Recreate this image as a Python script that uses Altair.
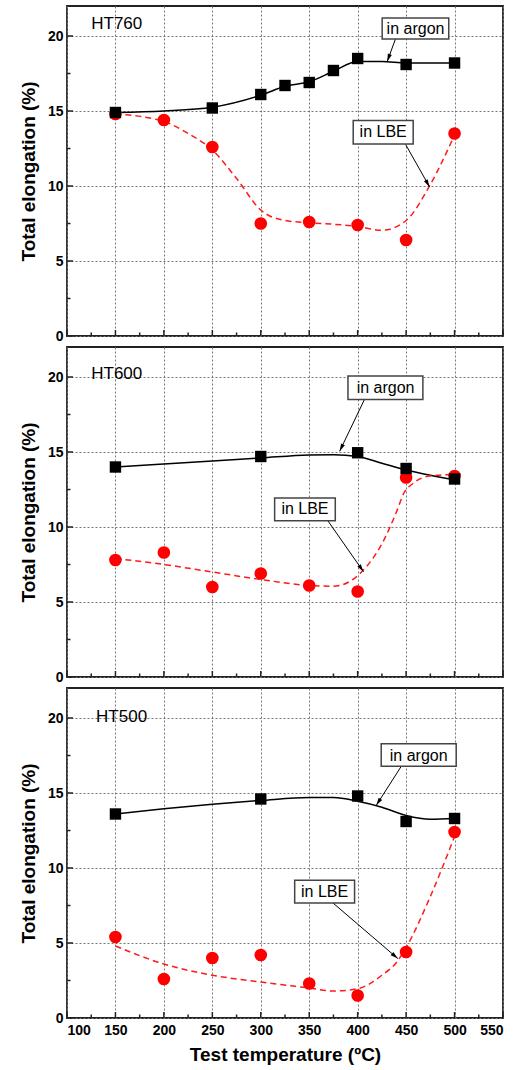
import math
import altair as alt
import pandas as pd

FONT = "Liberation Sans"
W, H = 436, 330
X_DOM = [100, 550]
Y_DOM = [0, 22]

# ---------------- data ----------------
# HT760
t760_argon = [150, 250, 300, 325, 350, 375, 400, 450, 500]
e760_argon = [14.9, 15.2, 16.1, 16.7, 16.9, 17.7, 18.5, 18.1, 18.2]
t760_lbe = [150, 200, 250, 300, 350, 400, 450, 500]
e760_lbe = [14.8, 14.4, 12.6, 7.5, 7.6, 7.4, 6.4, 13.5]
fit760_argon_t = [150, 200, 250, 300, 325, 350, 375, 400, 425, 450, 475, 500]
fit760_argon_v = [14.9, 15.0, 15.25, 16.05, 16.65, 16.95, 17.65, 18.3, 18.3, 18.2, 18.2, 18.2]
fit760_lbe_t = [150, 200, 225, 250, 275, 300, 325, 350, 375, 400, 425, 450, 475, 500]
fit760_lbe_v = [14.8, 14.3, 13.5, 12.4, 10.5, 8.4, 7.7, 7.55, 7.45, 7.3, 7.05, 7.7, 10.1, 13.4]

# HT600
t600_argon = [150, 300, 400, 450, 500]
e600_argon = [14.0, 14.7, 14.95, 13.9, 13.2]
t600_lbe = [150, 200, 250, 300, 350, 400, 450, 500]
e600_lbe = [7.8, 8.3, 6.0, 6.9, 6.1, 5.7, 13.3, 13.4]
fit600_argon_t = [150, 200, 250, 300, 350, 375, 400, 425, 450, 475, 500]
fit600_argon_v = [14.0, 14.2, 14.4, 14.6, 14.8, 14.82, 14.7, 14.25, 13.8, 13.45, 13.15]
fit600_lbe_t = [150, 200, 250, 300, 350, 375, 404, 426, 440, 448, 457, 474, 500]
fit600_lbe_v = [7.9, 7.5, 7.0, 6.5, 6.1, 6.05, 7.0, 9.0, 11.0, 12.3, 12.9, 13.4, 13.5]

# HT500
t500_argon = [150, 300, 400, 450, 500]
e500_argon = [13.6, 14.6, 14.8, 13.1, 13.3]
t500_lbe = [150, 200, 250, 300, 350, 400, 450, 500]
e500_lbe = [5.4, 2.6, 4.0, 4.2, 2.3, 1.5, 4.4, 12.4]
fit500_argon_t = [150, 200, 250, 300, 350, 375, 400, 425, 450, 475, 500]
fit500_argon_v = [13.6, 13.95, 14.25, 14.5, 14.7, 14.7, 14.45, 14.05, 13.5, 13.25, 13.3]
fit500_lbe_t = [150, 200, 250, 300, 350, 375, 400, 425, 440, 450, 475, 500]
fit500_lbe_v = [4.8, 3.6, 2.85, 2.4, 2.0, 1.8, 1.95, 2.85, 3.7, 4.7, 8.1, 12.1]

panel_names = ["HT760", "HT600", "HT500"]
panel_label_t = [125, 125, 130]
panel_label_v = [20.8, 20.2, 20.1]

note_texts = ["in argon", "in LBE"]
# per panel: [argon, LBE] -> box (t1, t2, v1, v2), text (t, v), arrow (t1, v1, t2, v2)
note_box = [
    [(425.3, 494.0, 19.8, 21.2), (395.4, 457.3, 12.8, 14.37)],
    [(390.0, 467.3, 18.5, 20.07), (314.3, 376.9, 10.41, 11.93)],
    [(424.3, 501.7, 16.78, 18.29), (335.0, 396.8, 7.67, 9.18)],
]
note_text_pos = [
    [(459.7, 20.5), (426.3, 13.6)],
    [(428.8, 19.3), (345.6, 11.17)],
    [(463.0, 17.5), (365.9, 8.42)],
]
note_arrow = [
    [(439.0, 19.8, 430.5, 18.3), (449.4, 12.78, 474.2, 9.94)],
    [(407.0, 18.5, 381.4, 15.05), (369.3, 10.41, 406.0, 7.02)],
    [(445.0, 16.78, 419.2, 14.18), (374.5, 7.67, 441.5, 3.96)],
]

x_major = list(range(100, 551, 50))
x_minor = list(range(125, 550, 50))
y_major = [0, 5, 10, 15, 20]
y_minor = [2.5, 7.5, 12.5, 17.5]

KX = W / (X_DOM[1] - X_DOM[0])
KY = H / (Y_DOM[1] - Y_DOM[0])


def panel(i, argon, lbe, fit_argon, fit_lbe, bottom):
    xscale = alt.Scale(domain=X_DOM, nice=False, zero=False)
    yscale = alt.Scale(domain=Y_DOM, nice=False)
    if bottom:
        xaxis = alt.Axis(values=x_major, grid=True, labels=True,
                         title="Test temperature (ºC)", labelPadding=5, titlePadding=8)
    else:
        xaxis = alt.Axis(values=x_major, grid=True, labels=False, title=None,
                         minExtent=0, maxExtent=0)
    yaxis = alt.Axis(values=y_major, grid=True, title="Total elongation (%)",
                     labelPadding=4, titlePadding=9)

    def X(f="t"):
        return alt.X(f"{f}:Q", scale=xscale, axis=xaxis)

    def Y(f="v"):
        return alt.Y(f"{f}:Q", scale=yscale, axis=yaxis)

    fa = pd.DataFrame({"t": fit_argon[0], "v": fit_argon[1]})
    fl = pd.DataFrame({"t": fit_lbe[0], "v": fit_lbe[1]})
    pa = pd.DataFrame({"t": argon[0], "v": argon[1]})
    pl = pd.DataFrame({"t": lbe[0], "v": lbe[1]})

    line_a = alt.Chart(fa).mark_line(color="black", strokeWidth=1.5, interpolate="monotone").encode(x=X(), y=Y())
    line_l = alt.Chart(fl).mark_line(color="#ff1a1a", strokeWidth=1.5, strokeDash=[6, 4],
                                     interpolate="monotone").encode(x=X(), y=Y())
    pts_l = alt.Chart(pl).mark_point(shape="circle", filled=True, color="#ff0000", size=160, opacity=1).encode(x=X(), y=Y())
    pts_a = alt.Chart(pa).mark_point(shape="square", filled=True, color="black", size=130, opacity=1).encode(x=X(), y=Y())

    boxes = pd.DataFrame([{"t": b[0], "t2": b[1], "v": b[2], "v2": b[3]} for b in note_box[i]])
    texts = pd.DataFrame([{"t": p[0], "v": p[1], "txt": s} for p, s in zip(note_text_pos[i], note_texts)])
    arr_rows = []
    for a in note_arrow[i]:
        sx = (a[2] - a[0]) * KX
        sy_up = (a[3] - a[1]) * KY
        ang = math.degrees(math.atan2(sx, sy_up)) % 360
        arr_rows.append({"t": a[0], "v": a[1], "t2": a[2], "v2": a[3], "ang": ang})
    arrows = pd.DataFrame(arr_rows)
    heads = arrows[["t2", "v2", "ang"]].rename(columns={"t2": "t", "v2": "v"})

    box_l = alt.Chart(boxes).mark_rect(fill="white", stroke="#444", strokeWidth=1.5).encode(
        x=X(), x2="t2:Q", y=Y(), y2="v2:Q")
    txt_l = alt.Chart(texts).mark_text(font=FONT, fontSize=16, color="black").encode(
        x=X(), y=Y(), text="txt:N")
    arr_l = alt.Chart(arrows).mark_rule(color="black", strokeWidth=1).encode(
        x=X(), x2="t2:Q", y=Y(), y2="v2:Q")
    head_l = alt.Chart(heads).mark_point(shape="M0,0L-0.6,2.2L0.6,2.2Z", filled=True, color="black",
                                         size=49, opacity=1).encode(
        x=X(), y=Y(), angle=alt.Angle("ang:Q", scale=None))

    lab = pd.DataFrame({"t": [panel_label_t[i]], "v": [panel_label_v[i]], "txt": [panel_names[i]]})
    lab_l = alt.Chart(lab).mark_text(font=FONT, fontSize=17, align="left", baseline="middle",
                                     color="black").encode(x=X(), y=Y(), text="txt:N")

    ymaj = alt.Chart(pd.DataFrame({"v": y_major})).mark_rule(color="#222", strokeWidth=1.5).encode(
        y=Y(), x=alt.value(0), x2=alt.value(6))
    ymin = alt.Chart(pd.DataFrame({"v": y_minor})).mark_rule(color="#222", strokeWidth=1.5).encode(
        y=Y(), x=alt.value(0), x2=alt.value(3.5))
    xmaj = alt.Chart(pd.DataFrame({"t": x_major})).mark_rule(color="#222", strokeWidth=1.5).encode(
        x=X(), y=alt.value(H), y2=alt.value(H - 6))
    xmin = alt.Chart(pd.DataFrame({"t": x_minor})).mark_rule(color="#222", strokeWidth=1.5).encode(
        x=X(), y=alt.value(H), y2=alt.value(H - 3.5))

    return alt.layer(line_a, line_l, pts_l, pts_a, arr_l, head_l, box_l, txt_l, lab_l,
                     ymaj, ymin, xmaj, xmin).properties(width=W, height=H)


p1 = panel(0, (t760_argon, e760_argon), (t760_lbe, e760_lbe),
           (fit760_argon_t, fit760_argon_v), (fit760_lbe_t, fit760_lbe_v), False)
p2 = panel(1, (t600_argon, e600_argon), (t600_lbe, e600_lbe),
           (fit600_argon_t, fit600_argon_v), (fit600_lbe_t, fit600_lbe_v), False)
p3 = panel(2, (t500_argon, e500_argon), (t500_lbe, e500_lbe),
           (fit500_argon_t, fit500_argon_v), (fit500_lbe_t, fit500_lbe_v), True)

chart = alt.vconcat(p1, p2, p3, spacing=2).properties(
    padding={"left": 18, "top": 5, "right": 5, "bottom": 3},
    background="white"
).configure_view(
    stroke="#222", strokeWidth=1.8
).configure_axis(
    labelFont=FONT, labelFontSize=14, labelFontWeight="bold", labelColor="black",
    titleFont=FONT, titleFontSize=19, titleFontWeight="bold", titleColor="black",
    gridColor="#777", gridDash=[2, 2], gridWidth=1, domain=False, ticks=False
)

chart.save("out.html", embed_options={"renderer": "svg", "actions": False})
